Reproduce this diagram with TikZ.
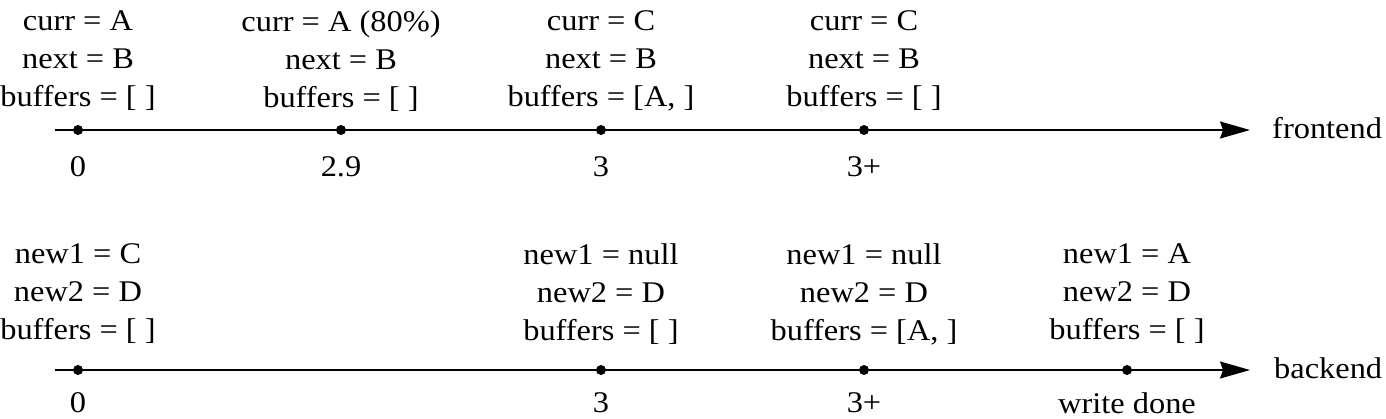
\documentclass[tikz,border=0pt]{standalone}
\usepackage{fontspec}
\setmainfont{Liberation Serif}
\usetikzlibrary{arrows.meta}
\tikzstyle{statebox} = [
    align=center,
    font=\fontsize{30}{38}\selectfont,
    xscale=1.08,
    inner sep=0pt
    ]
\tikzstyle{ticklabel} = [
    font=\fontsize{30}{32}\selectfont,
    xscale=1.08,
    inner sep=0pt
    ]
\tikzstyle{event} = [
    circle,
    fill=black,
    inner sep=0pt,
    minimum size=10pt
    ]
\tikzstyle{timeline} = [
    line width=1.8pt,
    -{Stealth[length=30pt,width=17pt,inset=3pt]}
    ]

\begin{document}
\begin{tikzpicture}[x=1pt,y=-1pt]
\useasboundingbox (0,0) rectangle (1386,418);
% frontend
\coordinate (fstart) at (55,130);
\coordinate (fend) at (1250,130);
\draw[timeline] (fstart) -- (fend);
\node[ticklabel, anchor=west] (front) at (1272,128) {frontend};
\node[event] (f0) at (78,130) {};
\node[event] (f1) at (341,130) {};
\node[event] (f2) at (601,130) {};
\node[event] (f3) at (864,130) {};
\node[statebox] (sf0) at (78,61) {curr = A\\next = B\\buffers = [ ]};
\node[statebox] (sf1) at (341,61) {curr = A (80\%)\\next = B\\buffers = [ ]};
\node[statebox] (sf2) at (601,61) {curr = C\\next = B\\buffers = [A, ]};
\node[statebox] (sf3) at (864,61) {curr = C\\next = B\\buffers = [ ]};
\node[ticklabel] (tf0) at (78,167) {0};
\node[ticklabel] (tf1) at (341,167) {2.9};
\node[ticklabel] (tf2) at (601,167) {3};
\node[ticklabel] (tf3) at (864,167) {3+};
% backend
\coordinate (bstart) at (55,370);
\coordinate (bend) at (1250,370);
\draw[timeline] (bstart) -- (bend);
\node[ticklabel, anchor=west] (back) at (1274,368) {backend};
\node[event] (b0) at (78,370) {};
\node[event] (b1) at (601,370) {};
\node[event] (b2) at (864,370) {};
\node[event] (b3) at (1127,370) {};
\node[statebox] (sb0) at (78,294) {new1 = C\\new2 = D\\buffers = [ ]};
\node[statebox] (sb1) at (601,294) {new1 = null\\new2 = D\\buffers = [ ]};
\node[statebox] (sb2) at (864,294) {new1 = null\\new2 = D\\buffers = [A, ]};
\node[statebox] (sb3) at (1127,294) {new1 = A\\new2 = D\\buffers = [ ]};
\node[ticklabel] (tb0) at (78,403) {0};
\node[ticklabel] (tb1) at (601,403) {3};
\node[ticklabel] (tb2) at (864,403) {3+};
\node[ticklabel] (tb3) at (1127,403) {write done};
\end{tikzpicture}
\end{document}
